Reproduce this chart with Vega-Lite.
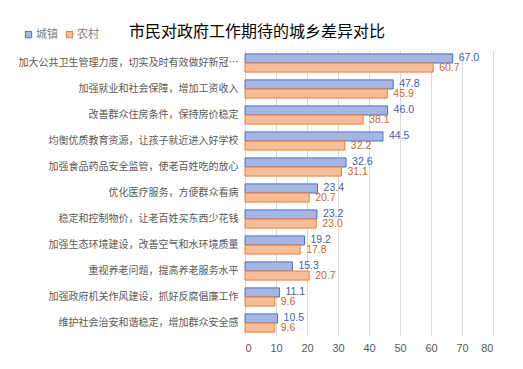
{
  "$schema": "https://vega.github.io/schema/vega-lite/v6.json",
  "width": 248,
  "height": 286,
  "autosize": {"type": "none"},
  "padding": {"left": 245, "top": 50, "right": 30, "bottom": 33},
  "background": "white",
  "title": {
    "text": "市民对政府工作期待的城乡差异对比",
    "anchor": "middle",
    "frame": "group",
    "dx": -112,
    "offset": -11,
    "fontSize": 16,
    "fontWeight": "normal",
    "font": "Noto Sans CJK SC",
    "color": "#000000"
  },
  "config": {
    "font": "Noto Sans CJK SC",
    "view": {"stroke": null}
  },
  "data": {
    "values": [
      {"item": "加大公共卫生管理力度，切实及时有效做好新冠…", "group": "城镇", "value": 67.0},
      {"item": "加大公共卫生管理力度，切实及时有效做好新冠…", "group": "农村", "value": 60.7},
      {"item": "加强就业和社会保障，增加工资收入", "group": "城镇", "value": 47.8},
      {"item": "加强就业和社会保障，增加工资收入", "group": "农村", "value": 45.9},
      {"item": "改善群众住房条件，保持房价稳定", "group": "城镇", "value": 46.0},
      {"item": "改善群众住房条件，保持房价稳定", "group": "农村", "value": 38.1},
      {"item": "均衡优质教育资源，让孩子就近进入好学校", "group": "城镇", "value": 44.5},
      {"item": "均衡优质教育资源，让孩子就近进入好学校", "group": "农村", "value": 32.2},
      {"item": "加强食品药品安全监管，使老百姓吃的放心", "group": "城镇", "value": 32.6},
      {"item": "加强食品药品安全监管，使老百姓吃的放心", "group": "农村", "value": 31.1},
      {"item": "优化医疗服务，方便群众看病", "group": "城镇", "value": 23.4},
      {"item": "优化医疗服务，方便群众看病", "group": "农村", "value": 20.7},
      {"item": "稳定和控制物价，让老百姓买东西少花钱", "group": "城镇", "value": 23.2},
      {"item": "稳定和控制物价，让老百姓买东西少花钱", "group": "农村", "value": 23.0},
      {"item": "加强生态环境建设，改善空气和水环境质量", "group": "城镇", "value": 19.2},
      {"item": "加强生态环境建设，改善空气和水环境质量", "group": "农村", "value": 17.8},
      {"item": "重视养老问题，提高养老服务水平", "group": "城镇", "value": 15.3},
      {"item": "重视养老问题，提高养老服务水平", "group": "农村", "value": 20.7},
      {"item": "加强政府机关作风建设，抓好反腐倡廉工作", "group": "城镇", "value": 11.1},
      {"item": "加强政府机关作风建设，抓好反腐倡廉工作", "group": "农村", "value": 9.6},
      {"item": "维护社会治安和谐稳定，增加群众安全感", "group": "城镇", "value": 10.5},
      {"item": "维护社会治安和谐稳定，增加群众安全感", "group": "农村", "value": 9.6}
    ]
  },
  "encoding": {
    "y": {
      "field": "item",
      "type": "nominal",
      "sort": null,
      "scale": {"paddingInner": 0.3, "paddingOuter": 0.15},
      "axis": {
        "title": null,
        "ticks": false,
        "domain": true,
        "domainColor": "#d9d9d9",
        "labelColor": "#595959",
        "labelFontSize": 10,
        "labelPadding": 7,
        "labelLimit": 240
      }
    },
    "yOffset": {
      "field": "group",
      "type": "nominal",
      "sort": ["城镇", "农村"],
      "scale": {"paddingInner": 0, "paddingOuter": 0}
    },
    "x": {
      "field": "value",
      "type": "quantitative",
      "scale": {"domain": [0, 80], "nice": false},
      "axis": {
        "title": null,
        "values": [0, 10, 20, 30, 40, 50, 60, 70, 80],
        "ticks": false,
        "domain": false,
        "grid": true,
        "gridColor": "#d9d9d9",
        "labelColor": "#595959",
        "labelFont": "Liberation Sans",
        "labelFontSize": 11,
        "labelPadding": 6
      }
    }
  },
  "layer": [
    {
      "mark": {"type": "bar", "strokeWidth": 1},
      "encoding": {
        "fill": {
          "field": "group",
          "type": "nominal",
          "sort": ["城镇", "农村"],
          "scale": {"domain": ["城镇", "农村"], "range": ["#a6b6e4", "#f6bd98"]},
          "legend": {
            "title": null,
            "orient": "none",
            "legendX": -222,
            "legendY": -21,
            "direction": "horizontal",
            "symbolType": "square",
            "symbolSize": 40,
            "symbolStrokeWidth": 1,
            "labelColor": "#7f7f7f",
            "labelFontSize": 11,
            "labelOffset": 2,
            "columnPadding": 6
          }
        },
        "stroke": {
          "field": "group",
          "type": "nominal",
          "sort": ["城镇", "农村"],
          "scale": {"domain": ["城镇", "农村"], "range": ["#4472c4", "#ed7d31"]},
          "legend": {
            "title": null,
            "orient": "none",
            "legendX": -222,
            "legendY": -21,
            "direction": "horizontal",
            "symbolType": "square",
            "symbolSize": 40,
            "symbolStrokeWidth": 1,
            "labelColor": "#7f7f7f",
            "labelFontSize": 11,
            "labelOffset": 2,
            "columnPadding": 6
          }
        }
      }
    },
    {
      "mark": {"type": "text", "align": "left", "baseline": "middle", "dx": 6, "fontSize": 10.5, "font": "Liberation Sans"},
      "encoding": {
        "text": {"field": "value", "type": "quantitative", "format": ".1f"},
        "fill": {
          "condition": {"test": "datum.group === '城镇'", "value": "#3a62b0"},
          "value": "#d0661f"
        }
      }
    }
  ]
}
